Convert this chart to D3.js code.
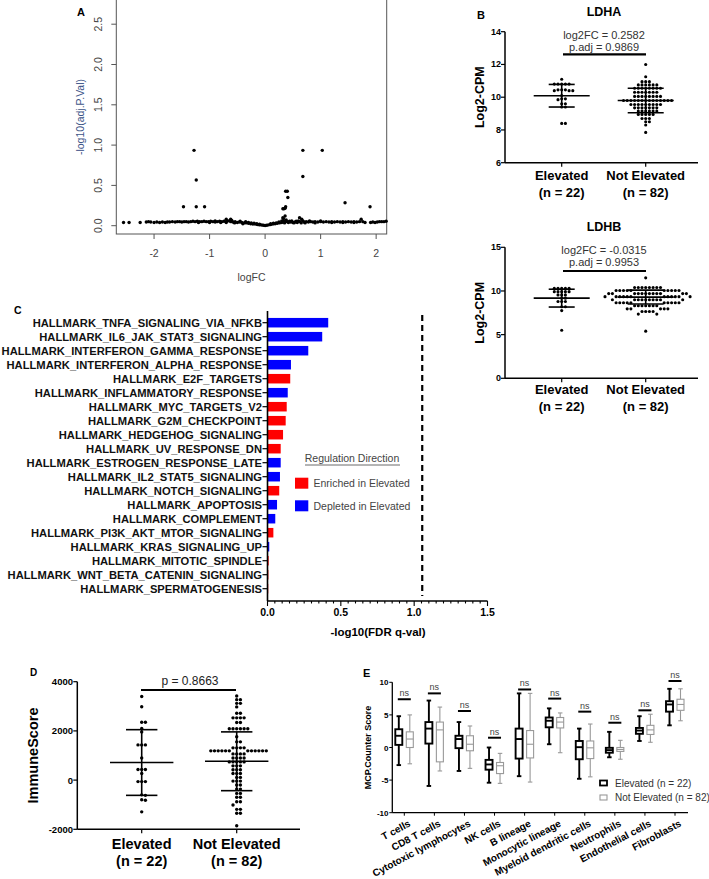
<!DOCTYPE html>
<html><head><meta charset="utf-8">
<script src="https://cdn.jsdelivr.net/npm/d3@7/dist/d3.min.js"></script>
<style>html,body{margin:0;padding:0;background:#fff}svg{display:block}</style>
</head><body>
<script>
// ---------------- DATA ----------------
// Panel A: volcano plot points [logFC, -log10(adj.P.Val)]
const volcanoGenes = [
 [-2.55,0.04],[-2.45,0.04],[-2.25,0.04],[-2.14,0.045],[-2.1,0.05],[-2.06,0.045],[-2.0,0.04],[-1.95,0.045],[-1.9,0.04],[-1.85,0.045],
 [-1.8,0.04],[-1.76,0.045],[-1.72,0.045],[-1.67,0.05],[-1.62,0.045],[-1.58,0.05],[-1.54,0.05],[-1.5,0.045],[-1.46,0.05],[-1.42,0.05],
 [-1.38,0.045],[-1.34,0.05],[-1.3,0.055],[-1.26,0.05],[-1.22,0.055],[-1.18,0.05],[-1.14,0.05],[-1.1,0.055],[-1.06,0.05],[-1.02,0.05],
 [-0.98,0.055],[-0.94,0.05],[-0.9,0.045],[-0.86,0.05],[-0.82,0.055],[-0.78,0.05],[-0.74,0.055],[-0.7,0.08],[-0.7,0.05],[-0.66,0.06],
 [-0.62,0.08],[-0.62,0.05],[-0.58,0.045],[-0.54,0.05],[-0.5,0.04],[-0.46,0.045],[-0.42,0.04],[-0.38,0.035],[-0.34,0.035],[-0.3,0.03],
 [-0.26,0.025],[-0.22,0.02],[-0.18,0.02],[-0.14,0.015],[-0.1,0.01],[-0.06,0.008],[-0.03,0.005],[0,0.003],[0.03,0.005],[0.06,0.01],
 [0.1,0.015],[0.14,0.02],[0.18,0.025],[0.22,0.03],[0.26,0.035],[0.3,0.04],[0.32,0.1],[0.34,0.06],[0.36,0.045],[0.38,0.07],
 [0.4,0.05],[0.42,0.04],[0.46,0.045],[0.5,0.04],[0.54,0.045],[0.58,0.04],[0.62,0.1],[0.63,0.05],[0.66,0.08],[0.7,0.045],
 [0.74,0.05],[0.78,0.045],[0.82,0.05],[0.86,0.045],[0.9,0.05],[0.95,0.045],[1.0,0.05],[1.05,0.045],[1.1,0.05],[1.15,0.045],
 [1.2,0.05],[1.25,0.045],[1.3,0.05],[1.35,0.045],[1.4,0.05],[1.45,0.045],[1.5,0.05],[1.55,0.045],[1.6,0.05],[1.65,0.045],
 [1.7,0.05],[1.73,0.08],[1.76,0.05],[1.8,0.04],[1.9,0.04],[1.94,0.045],[1.98,0.04],[2.02,0.045],[2.06,0.05],[2.1,0.05],
 [2.14,0.05],[2.18,0.055],
 [-1.2,0.04],[-1.0,0.04],[-0.9,0.06],[-0.8,0.04],[-0.7,0.04],[-0.6,0.065],[-0.55,0.035],[-0.45,0.055],[-0.4,0.025],[-0.35,0.05],
 [-0.3,0.04],[-0.25,0.035],[-0.2,0.03],[-0.15,0.025],[-0.1,0.02],[0.1,0.025],[0.15,0.03],[0.2,0.035],[0.25,0.045],[0.3,0.06],
 [0.35,0.035],[0.44,0.055],[0.48,0.06],[0.52,0.035],[0.56,0.055],[0.6,0.06],[0.65,0.035],[0.68,0.06],[0.72,0.035],[0.8,0.06],
 [0.9,0.035],[1.0,0.06],[1.2,0.04],[1.4,0.04],[1.6,0.04],
 [-1.28,0.935],[-1.24,0.567],[-1.47,0.236],[-1.24,0.236],[-1.09,0.236],[0.68,0.935],[1.03,0.935],[0.68,0.61],[0.37,0.427],[0.40,0.427],
 [0.41,0.35],[0.32,0.21],[0.34,0.21],[0.36,0.215],[0.37,0.235],[1.44,0.285],[1.89,0.236],[0.36,0.12],[0.33,0.09]
];
const volcanoXTicks = [-2,-1,0,1,2];
const volcanoYTicks = [0,0.5,1,1.5,2,2.5];

// Panel B
const groups = ["Elevated","Not Elevated"];
const groupN = ["(n = 22)","(n = 82)"];
const ldhaElevated = [11.1,10.8,10.8,10.8,10.8,10.8,10.45,10.45,10.45,10.4,10.4,10.4,10.1,9.9,9.9,9.85,9.6,9.6,9.4,9.4,8.4,8.4];
const ldhaNotElevated = [12.0,11.25,10.95,10.95,10.95,10.75,10.75,10.75,10.75,10.75,10.75,
 10.55,10.55,10.55,10.55,10.55,10.55,10.55,10.55,10.3,10.3,10.3,10.3,10.3,10.3,10.3,
 10.05,10.05,10.05,10.05,10.05,10.05,10.05,10.05,
 9.8,9.8,9.8,9.8,9.8,9.8,9.8,9.8,9.8,9.8,9.8,9.8,9.8,9.8,
 9.55,9.55,9.55,9.55,9.55,9.55,9.55,9.55,9.55,9.35,9.35,9.35,9.35,9.35,9.35,9.35,
 9.15,9.15,9.15,9.15,9.15,9.15,8.95,8.95,8.95,8.95,8.95,8.7,8.7,8.7,8.5,8.5,8.3,7.85];
const ldhaStats = [{mean:10.09, sd:0.69},{mean:9.8, sd:0.75}];
const ldhaTicks = [6,8,10,12,14];
const ldhaNote = ["log2FC = 0.2582","p.adj = 0.9869"];

const ldhbElevated = [10.3,10.3,10.3,10.3,10.3,9.92,9.92,9.92,9.92,9.92,9.55,9.55,9.55,9.18,9.18,8.8,8.8,8.8,8.2,8.2,7.75,5.5];
const ldhbNotElevated = [11.5,10.4,10.4,10.4,10.4,10.4,10.4,10.4,10.4,
 10.05,10.05,10.05,10.05,10.05,10.05,10.05,10.05,10.05,10.05,
 9.7,9.7,9.7,9.7,9.7,9.7,9.7,9.7,9.7,9.7,9.7,9.7,
 9.35,9.35,9.35,9.35,9.35,9.35,9.35,9.35,9.35,9.35,9.35,9.35,
 9.0,9.0,9.0,9.0,9.0,9.0,9.0,9.0,9.0,9.0,
 8.65,8.65,8.65,8.65,8.65,8.65,8.65,8.65,8.65,8.65,
 8.3,8.3,8.3,8.3,8.3,8.3,8.3,7.95,7.95,7.95,7.95,7.95,7.65,7.65,7.65,7.65,7.35,7.35,5.4];
const ldhbStats = [{mean:9.18, sd:1.02},{mean:9.3, sd:0.8}];
const ldhbTicks = [0,5,10,15];
const ldhbNote = ["log2FC = -0.0315","p.adj = 0.9953"];

// Panel C
const hallmarks = ["HALLMARK_TNFA_SIGNALING_VIA_NFKB","HALLMARK_IL6_JAK_STAT3_SIGNALING","HALLMARK_INTERFERON_GAMMA_RESPONSE",
 "HALLMARK_INTERFERON_ALPHA_RESPONSE","HALLMARK_E2F_TARGETS","HALLMARK_INFLAMMATORY_RESPONSE","HALLMARK_MYC_TARGETS_V2",
 "HALLMARK_G2M_CHECKPOINT","HALLMARK_HEDGEHOG_SIGNALING","HALLMARK_UV_RESPONSE_DN","HALLMARK_ESTROGEN_RESPONSE_LATE",
 "HALLMARK_IL2_STAT5_SIGNALING","HALLMARK_NOTCH_SIGNALING","HALLMARK_APOPTOSIS","HALLMARK_COMPLEMENT",
 "HALLMARK_PI3K_AKT_MTOR_SIGNALING","HALLMARK_KRAS_SIGNALING_UP","HALLMARK_MITOTIC_SPINDLE",
 "HALLMARK_WNT_BETA_CATENIN_SIGNALING","HALLMARK_SPERMATOGENESIS"];
const fdrValues = [0.414,0.373,0.278,0.160,0.155,0.138,0.131,0.124,0.106,0.090,0.090,0.085,0.080,0.065,0.053,0.040,0.012,0.008,0.006,0.005];
const direction = ["D","D","D","D","E","D","E","E","E","E","D","D","E","D","D","E","D","E","E","E"];
const fdrThreshold = 1.055;
const fdrTicks = [0,0.5,1,1.5];
const legendLabels = ["Enriched in Elevated","Depleted in Elevated"];

// Panel D
const immuneElevated = [3400,2980,2350,2350,2100,1960,1430,1430,1430,900,430,430,430,270,-60,-60,-60,-600,-620,-800,-820,-1290];
const immuneNotElevated = [3420,3270,3270,3120,3120,2975,2720,2720,2530,2530,2530,2530,2340,2340,
 2090,2090,2090,2090,2090,2090,1760,1555,1555,1310,1310,1310,1310,
 1190,1190,1190,1190,1190,1190,1190,1190,1190,1190,1190,1190,
 1065,1065,1065,1065,900,900,900,900,740,740,740,740,740,580,580,580,420,420,420,270,270,270,110,110,
 -40,-40,-40,-200,-200,-365,-365,-540,-540,-700,-700,-880,-880,-1015,-1190,-1190,-1350,-1350,-1855];
const immuneStats = [{mean:715, sd:1335},{mean:765, sd:1195}];
const immuneTicks = [-2000,0,2000,4000];
const immuneNote = "p = 0.8663";

// Panel E: [min, q1, median, q3, max]
const cellTypes = ["T cells","CD8 T cells","Cytotoxic lymphocytes","NK cells","B lineage","Monocytic lineage",
 "Myeloid dendritic cells","Neutrophils","Endothelial cells","Fibroblasts"];
const mcpElevated = [[-2.7,0.4,1.8,2.8,4.8],[-5.9,0.6,2.9,3.9,7.2],[-3.6,-0.1,1.3,1.8,3.9],[-5.4,-3.4,-2.6,-1.9,0.0],
 [-4.4,-1.7,1.3,2.9,8.3],[0.5,3.1,4.1,4.6,6.0],[-4.8,-1.8,0.05,1.0,2.9],[-1.5,-0.8,-0.4,-0.05,2.4],[1.0,2.1,2.6,3.0,4.8],[3.4,5.5,6.6,7.1,9.0]];
const mcpNotElevated = [[-2.5,0.0,1.3,2.4,5.0],[-3.6,-2.2,2.7,3.9,6.2],[-3.2,-0.5,0.5,1.8,3.3],[-5.5,-4.0,-2.8,-2.3,-0.9],
 [-5.3,-1.6,0.5,2.6,8.3],[-0.8,3.0,3.9,4.6,5.3],[-4.5,-1.7,-0.05,1.0,3.6],[-1.8,-0.6,-0.3,0.0,1.1],[0.8,2.0,2.7,3.4,5.1],[4.1,5.7,6.6,7.4,9.0]];
const nsLevels = [7.4,8.3,5.6,1.5,8.9,7.5,5.5,3.8,5.7,10.2];
const mcpTicks = [-10,-5,0,5,10];
const mcpLegend = ["Elevated (n = 22)","Not Elevated (n = 82)"];

// ---------------- DRAWING ----------------
const FONT = "'Liberation Sans', Arial, Helvetica, sans-serif";
const svg = d3.select("body").append("svg").attr("width",709).attr("height",879)
  .style("font-family",FONT);
svg.append("rect").attr("width",709).attr("height",879).attr("fill","#fff");

function txt(g,x,y,s,o={}){
  const t=g.append("text").attr("x",x).attr("y",y).text(s)
   .attr("font-size",o.size||10).attr("fill",o.fill||"#000")
   .attr("font-weight",o.bold?"bold":"normal").attr("text-anchor",o.anchor||"start");
  if(o.rotate!==undefined) t.attr("transform",`rotate(${o.rotate},${x},${y})`);
  return t;
}
function line(g,x1,y1,x2,y2,c="#000",w=1){
  return g.append("line").attr("x1",x1).attr("y1",y1).attr("x2",x2).attr("y2",y2).attr("stroke",c).attr("stroke-width",w);
}
function swarm(values,y,r,step){
  const pts=values.map(v=>({v,y:y(v),x:0}));
  const order=pts.slice().sort((a,b)=>a.y-b.y||0);
  const placed=[];
  for(const p of order){
    for(let k=0;k<200;k++){
      const off=k===0?0:(k%2?1:-1)*Math.ceil(k/2)*step;
      if(placed.every(q=>(q.x-off)**2+(q.y-p.y)**2>=(2*r)**2-1e-6)){p.x=off;break;}
    }
    placed.push(p);
  }
  return pts;
}

// ===== Panel A =====
{
  const g=svg.append("g");
  const L=116.3,R=386.7,B=234,T=-2;
  const x=d3.scaleLinear().domain([-2.68,2.19]).range([L,R]);
  const y=d3.scaleLinear().domain([0,2.5]).range([225.7,24.2]);
  g.append("rect").attr("x",L).attr("y",T).attr("width",R-L).attr("height",B-T).attr("fill","none").attr("stroke","#555").attr("stroke-width",1);
  volcanoXTicks.forEach(t=>{ line(g,x(t),B,x(t),B+5,"#555",1); txt(g,x(t),257,t,{size:10.5,fill:"#444",anchor:"middle"}); });
  volcanoYTicks.forEach(t=>{ line(g,L-5,y(t),L,y(t),"#555",1); txt(g,102,y(t),d3.format(".1f")(t),{size:10.5,fill:"#444",anchor:"middle",rotate:-90}); });
  g.selectAll("circle").data(volcanoGenes).join("circle").attr("cx",d=>x(d[0])).attr("cy",d=>y(d[1])).attr("r",1.7).attr("fill","#000");
  txt(g,251.5,281,"logFC",{size:10.5,fill:"#444",anchor:"middle"});
  txt(g,84,117,"-log10(adj.P.Val)",{size:10.5,fill:"#3c5488",anchor:"middle",rotate:-90});
  txt(g,77,16,"A",{size:11,bold:true});
}

// ===== Panel B =====
function scatterPanel(title,titleY,yDomain,yTop,yBot,ticks,elev,notElev,stats,note,noteY,barY,labY){
  const g=svg.append("g");
  const AX=505;
  const y=d3.scaleLinear().domain(yDomain).range([yBot,yTop]);
  const x=d3.scalePoint().domain(groups).range([561.7,645.7]);
  txt(g,604,titleY,title,{size:12.5,bold:true,anchor:"middle"});
  line(g,AX,yTop,AX,yBot,"#000",1.5);
  line(g,AX,yBot,698,yBot,"#000",1.5);
  ticks.forEach(t=>{ line(g,AX-4,y(t),AX,y(t),"#000",1.2); txt(g,501,y(t)+3,t,{size:9,bold:true,anchor:"end"}); });
  groups.forEach((gr,i)=>{
    line(g,x(gr),yBot,x(gr),yBot+4,"#000",1.2);
    txt(g,x(gr),labY,gr,{size:13,bold:true,anchor:"middle"});
    txt(g,x(gr),labY+17,groupN[i],{size:13,bold:true,anchor:"middle"});
  });
  txt(g,484.5,(yTop+yBot)/2,"Log2-CPM",{size:12.5,bold:true,anchor:"middle",rotate:-90});
  [elev,notElev].forEach((vals,i)=>{
    const cx=x(groups[i]);
    const pts=swarm(vals,y,1.55,3.7);
    g.append("g").selectAll("circle").data(pts).join("circle").attr("cx",d=>cx+d.x).attr("cy",d=>d.y).attr("r",1.55).attr("fill","#000");
    const s=stats[i], capW=i===0?13:18;
    line(g,cx-28,y(s.mean),cx+28,y(s.mean),"#000",1.6);
    line(g,cx,y(s.mean+s.sd),cx,y(s.mean-s.sd),"#000",1.6);
    line(g,cx-capW,y(s.mean+s.sd),cx+capW,y(s.mean+s.sd),"#000",1.6);
    line(g,cx-capW,y(s.mean-s.sd),cx+capW,y(s.mean-s.sd),"#000",1.6);
  });
  txt(g,604,noteY,note[0],{size:11,fill:"#333",anchor:"middle"});
  txt(g,604,noteY+12,note[1],{size:11,fill:"#333",anchor:"middle"});
  line(g,563,barY,646,barY,"#000",2.2);
  return g;
}
scatterPanel("LDHA",16,[6,14],31.7,162.7,ldhaTicks,ldhaElevated,ldhaNotElevated,ldhaStats,ldhaNote,39,54.3,180);
scatterPanel("LDHB",231,[0,15],247.3,378.3,ldhbTicks,ldhbElevated,ldhbNotElevated,ldhbStats,ldhbNote,254,271,394);
txt(svg,477,19,"B",{size:11,bold:true});

// ===== Panel C =====
{
  const g=svg.append("g");
  const x=d3.scaleLinear().domain([0,1.5]).range([267.5,487.5]);
  const y=d3.scaleBand().domain(hallmarks).range([315.7,595.7]).paddingInner(0.32).paddingOuter(0.16);
  const AXB=601;
  g.selectAll("rect.bar").data(hallmarks).join("rect").attr("class","bar")
   .attr("x",x(0)).attr("y",d=>y(d)).attr("height",y.bandwidth())
   .attr("width",(d,i)=>x(fdrValues[i])-x(0))
   .attr("fill",(d,i)=>direction[i]==="E"?"#ff0000":"#0000ff");
  line(g,x(0),311,x(0),AXB,"#000",1.6);
  line(g,x(0),AXB,x(1.5),AXB,"#000",1.6);
  hallmarks.forEach(h=>{
    const cy=y(h)+y.bandwidth()/2;
    line(g,x(0)-5,cy,x(0),cy,"#000",1.2);
    txt(g,262,cy+4,h,{size:11.2,bold:true,fill:"#111",anchor:"end"});
  });
  d3.range(0,31).forEach(k=>{ const v=k*0.05; const major=k%10===0; line(g,x(v),AXB,x(v),AXB+(major?5:2.5),"#000",1.1); });
  fdrTicks.forEach(t=>txt(g,x(t),616,d3.format(".1f")(t),{size:10.5,bold:true,anchor:"middle"}));
  txt(g,378,636,"-log10(FDR q-val)",{size:11.5,bold:true,anchor:"middle"});
  g.append("line").attr("x1",x(fdrThreshold)).attr("x2",x(fdrThreshold)).attr("y1",315).attr("y2",596)
   .attr("stroke","#000").attr("stroke-width",2.2).attr("stroke-dasharray","6,4");
  txt(g,352,462,"Regulation  Direction",{size:10.5,fill:"#444",anchor:"middle"});
  line(g,305,465,400,465,"#444",0.8);
  [["#ff0000",477.7],["#0000ff",500.3]].forEach((c,i)=>{
    g.append("rect").attr("x",295).attr("y",c[1]).attr("width",13.3).attr("height",11).attr("fill",c[0]);
    txt(g,313.5,c[1]+9.5,legendLabels[i],{size:10.5,fill:"#444"});
  });
  txt(g,14,314,"C",{size:10.5,bold:true});
}

// ===== Panel D =====
{
  const g=svg.append("g");
  const AX=77.3, yTop=681.7, yBot=829.3;
  const y=d3.scaleLinear().domain([-2000,4000]).range([yBot,yTop]);
  const x=d3.scalePoint().domain(groups).range([141.7,236.7]);
  line(g,AX,yTop,AX,yBot,"#000",1.5);
  line(g,AX,yBot,300,yBot,"#000",1.5);
  immuneTicks.forEach(t=>{ line(g,AX-4,y(t),AX,y(t),"#000",1.2); txt(g,73,y(t)+3.5,t,{size:9.5,bold:true,anchor:"end"}); });
  groups.forEach((gr,i)=>{
    line(g,x(gr),yBot,x(gr),yBot+4,"#000",1.2);
    txt(g,x(gr),849,gr,{size:14.5,bold:true,anchor:"middle"});
    txt(g,x(gr),866,groupN[i],{size:14.5,bold:true,anchor:"middle"});
  });
  txt(g,38,755.5,"ImmuneScore",{size:14.5,bold:true,anchor:"middle",rotate:-90});
  [immuneElevated,immuneNotElevated].forEach((vals,i)=>{
    const cx=x(groups[i]);
    const pts=swarm(vals,y,1.7,3.7);
    g.append("g").selectAll("circle").data(pts).join("circle").attr("cx",d=>cx+d.x).attr("cy",d=>d.y).attr("r",1.7).attr("fill","#000");
    const s=immuneStats[i];
    line(g,cx-31.7,y(s.mean),cx+31.7,y(s.mean),"#000",1.6);
    line(g,cx,y(s.mean+s.sd),cx,y(s.mean-s.sd),"#000",1.6);
    line(g,cx-15.7,y(s.mean+s.sd),cx+15.7,y(s.mean+s.sd),"#000",1.6);
    line(g,cx-15.7,y(s.mean-s.sd),cx+15.7,y(s.mean-s.sd),"#000",1.6);
  });
  txt(g,190,684.5,immuneNote,{size:12,fill:"#222",anchor:"middle"});
  line(g,141,690,236,690,"#000",2.2);
  txt(g,30,676,"D",{size:10,bold:true});
}

// ===== Panel E =====
{
  const g=svg.append("g");
  const AX=392.3, yTop=682.3, yBot=812.7;
  const y=d3.scaleLinear().domain([-10,10]).range([yBot,yTop]);
  const x=d3.scalePoint().domain(cellTypes).range([404.3,675]);
  line(g,AX,yTop,AX,yBot,"#000",1.3);
  line(g,AX,yBot,688,yBot,"#000",1.3);
  mcpTicks.forEach(t=>{ line(g,AX-3,y(t),AX,y(t),"#000",1); txt(g,388.5,y(t)+3,t,{size:8,bold:true,anchor:"end"}); });
  txt(g,371,747.5,"MCP.Counter Score",{size:9,bold:true,anchor:"middle",rotate:-90});
  const bw=7;
  function box(cx,d,color,w){
    const bg=g.append("g");
    line(bg,cx,y(d[4]),cx,y(d[3]),color,w);
    line(bg,cx,y(d[1]),cx,y(d[0]),color,w);
    line(bg,cx-bw/4-0.5,y(d[4]),cx+bw/4+0.5,y(d[4]),color,w);
    line(bg,cx-bw/4-0.5,y(d[0]),cx+bw/4+0.5,y(d[0]),color,w);
    bg.append("rect").attr("x",cx-bw/2).attr("y",y(d[3])).attr("width",bw).attr("height",y(d[1])-y(d[3]))
      .attr("fill","#fff").attr("stroke",color).attr("stroke-width",w);
    line(bg,cx-bw/2,y(d[2]),cx+bw/2,y(d[2]),color,w);
  }
  cellTypes.forEach((c,i)=>{
    const cx=x(c);
    box(cx-5.5,mcpElevated[i],"#000",1.9);
    box(cx+5.5,mcpNotElevated[i],"#999",1.1);
    line(g,cx-6.5,y(nsLevels[i]),cx+6.5,y(nsLevels[i]),"#000",2);
    txt(g,cx,y(nsLevels[i])-3,"ns",{size:9,fill:"#444",anchor:"middle"});
    line(g,cx,yBot,cx,yBot+3,"#000",1);
    txt(g,cx+7,yBot+13,c,{size:10,bold:true,anchor:"end",rotate:-28});
  });
  g.append("rect").attr("x",600).attr("y",780.5).attr("width",7).attr("height",5).attr("fill","#fff").attr("stroke","#000").attr("stroke-width",1.8);
  g.append("rect").attr("x",600).attr("y",795).attr("width",7).attr("height",5).attr("fill","#fff").attr("stroke","#999").attr("stroke-width",1.1);
  txt(g,615,786.5,mcpLegend[0],{size:10,fill:"#333"});
  txt(g,615,801,mcpLegend[1],{size:10,fill:"#333"});
  txt(g,363,677,"E",{size:11,bold:true});
}
</script>
</body></html>
